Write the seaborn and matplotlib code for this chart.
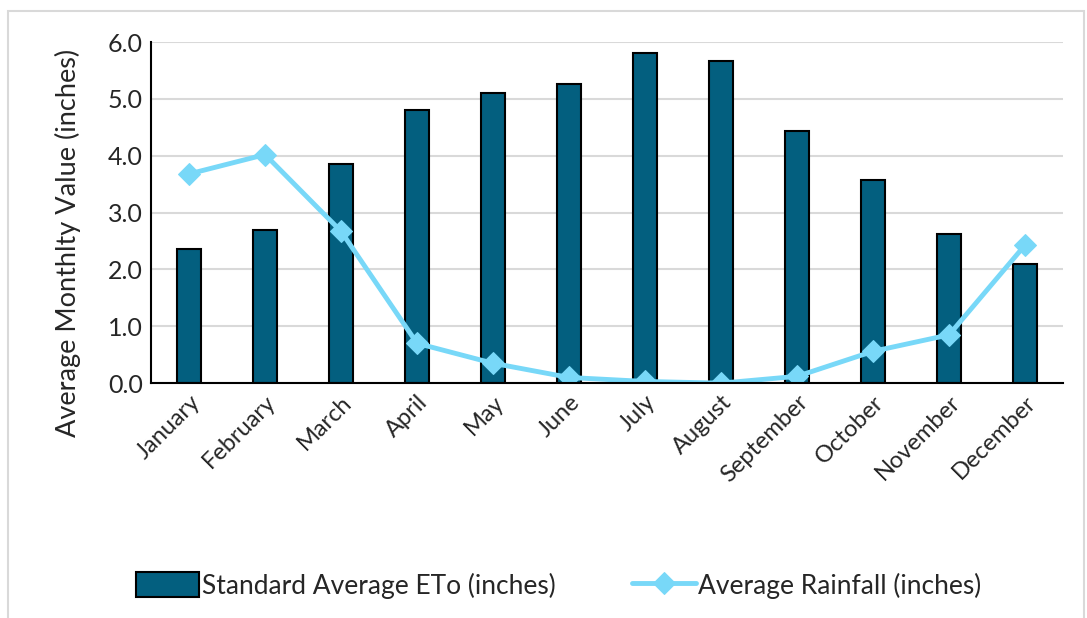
import matplotlib
matplotlib.use("Agg")
import matplotlib.pyplot as plt
import numpy as np
import seaborn as sns
from matplotlib.patches import Rectangle

months = ["January", "February", "March", "April", "May", "June", "July",
          "August", "September", "October", "November", "December"]
eto = [2.36, 2.69, 3.85, 4.81, 5.10, 5.26, 5.81, 5.67, 4.43, 3.57, 2.62, 2.10]
rainfall = [3.68, 4.02, 2.67, 0.70, 0.35, 0.10, 0.03, 0.00, 0.12, 0.56, 0.85, 2.43]

bar_color = "#035F7F"
line_color = "#78D8F8"

sns.set_style("white")
plt.rcParams["font.family"] = ["Lato", "DejaVu Sans"]

fig = plt.figure(figsize=(10.87, 6.18), dpi=100)
ax = fig.add_axes([0.139, 0.380, 0.839, 0.552])

sns.barplot(x=months, y=eto, color=bar_color, width=0.32, edgecolor="black",
            linewidth=1.5, saturation=1, ax=ax, zorder=2,
            label="Standard Average ETo (inches)")
sns.lineplot(x=np.arange(len(months)), y=rainfall, color=line_color, linewidth=3.5,
             marker="D", markersize=11, markeredgecolor=line_color, ax=ax, zorder=3,
             label="Average Rainfall (inches)")

ax.set_ylim(0, 6)
ax.set_xlim(-0.5, 11.5)
ax.set_yticks(np.arange(0, 6.1, 1.0))
ax.set_yticklabels([f"{v:.1f}" for v in np.arange(0, 6.1, 1.0)], fontsize=18)
ax.set_xticks(np.arange(len(months)))
ax.set_xticklabels(months, rotation=45, ha="right", rotation_mode="anchor", fontsize=17)
ax.tick_params(axis="both", length=0, pad=6)
ax.yaxis.grid(True, color="#D9D9D9", linewidth=1.5, zorder=0)
ax.set_axisbelow(True)
ax.set_xlabel("")
ax.set_ylabel("Average Monthlty Value (inches)", fontsize=19.5)
ax.yaxis.set_label_coords(-0.077, 0.41)

for side in ["top", "right"]:
    ax.spines[side].set_visible(False)
for side in ["left", "bottom"]:
    ax.spines[side].set_color("black")
    ax.spines[side].set_linewidth(1.5)
    ax.spines[side].set_zorder(4)

handles, labels = ax.get_legend_handles_labels()
order = [labels.index("Standard Average ETo (inches)"), labels.index("Average Rainfall (inches)")]
ax.legend([handles[i] for i in order], [labels[i] for i in order],
          loc="center", bbox_to_anchor=(0.514, 0.053), bbox_transform=fig.transFigure,
          ncol=2, frameon=False, fontsize=19, handlelength=2.4, handleheight=1.1,
          handletextpad=0.1, columnspacing=2.9)

fig.patches.append(Rectangle((0.007, -0.01), 0.99, 0.992, transform=fig.transFigure,
                             fill=False, edgecolor="#D9D9D9", linewidth=1.5))

fig.savefig("out.png", dpi=100)
